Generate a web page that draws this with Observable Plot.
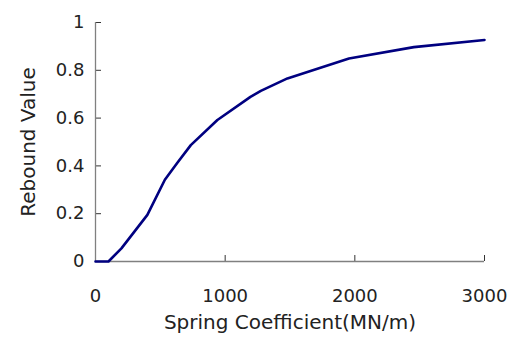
<!DOCTYPE html>
<html>
<head>
<meta charset="utf-8">
<script src="https://cdn.jsdelivr.net/npm/d3@7"></script>
<script src="https://cdn.jsdelivr.net/npm/@observablehq/plot@0.6"></script>
<style>
  html, body { margin: 0; padding: 0; background: #fff; }
  #chart { width: 509px; height: 338px; }
</style>
</head>
<body>
<div id="chart"></div>
<script>
const springCoefficient = [0, 100, 200, 400, 535, 630, 735, 940, 1195, 1275, 1480, 1955, 2455, 3000];
const reboundValue      = [0, 0, 0.055, 0.195, 0.342, 0.412, 0.487, 0.592, 0.689, 0.714, 0.766, 0.849, 0.897, 0.927];
const xTicks = [0, 1000, 2000, 3000];
const yTicks = [0, 0.2, 0.4, 0.6, 0.8, 1];
const yTickLabels = ["0", "0.2", "0.4", "0.6", "0.8", "1"];
const xTitle = "Spring Coefficient(MN/m)";
const yTitle = "Rebound Value";

const data = springCoefficient.map((x, i) => ({x, y: reboundValue[i]}));
const font = "DejaVu Sans, sans-serif";

const chart = Plot.plot({
  width: 509,
  height: 338,
  marginLeft: 95,
  marginRight: 25,
  marginTop: 22,
  marginBottom: 77,
  style: { fontFamily: font, background: "#fff", color: "#222" },
  x: { domain: [0, 3000] },
  y: { domain: [0, 1] },
  marks: [
    Plot.axisX({ticks: xTicks, tickSize: -6, tickPadding: 34, fontSize: 18, label: null, stroke: "#333", tickFormat: d => String(d)}),
    Plot.axisY({ticks: yTicks, tickSize: -6, tickPadding: 17, fontSize: 18, label: null, stroke: "#333", tickFormat: d => yTickLabels[yTicks.indexOf(d)]}),
    Plot.ruleX([0], {stroke: "#808080", strokeWidth: 1.3}),
    Plot.ruleY([0], {stroke: "#808080", strokeWidth: 1.3}),
    Plot.line(data, {x: "x", y: "y", stroke: "#000080", strokeWidth: 2.6, strokeLinejoin: "round"}),
    Plot.text([yTitle], {frameAnchor: "left", textAnchor: "middle", lineAnchor: "middle", dx: -67, rotate: -90, fontSize: 20, fill: "#222"}),
    Plot.text([xTitle], {frameAnchor: "bottom", textAnchor: "middle", lineAnchor: "middle", dy: 61, fontSize: 20, fill: "#222"})
  ]
});
document.getElementById("chart").appendChild(chart);
</script>
</body>
</html>
